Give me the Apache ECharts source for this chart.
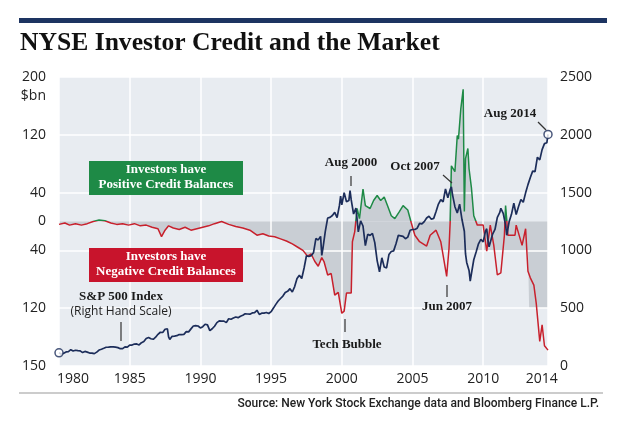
<!DOCTYPE html>
<html><head><meta charset="utf-8">
<script src="https://cdn.jsdelivr.net/npm/echarts@6/dist/echarts.min.js"></script>
<style>html,body{margin:0;padding:0;background:#fff}#c{width:620px;height:427px}</style>
</head><body><div id="c"></div>
<script>
// ---- S&P 500 index (right hand scale) ----
const spDates = [
'1980-01','1980-03','1980-05','1980-07','1980-09','1980-11',
'1981-01','1981-03','1981-05','1981-07','1981-09','1981-11',
'1982-01','1982-03','1982-05','1982-07','1982-09','1982-11',
'1983-01','1983-03','1983-05','1983-07','1983-09','1983-11',
'1984-01','1984-03','1984-05','1984-07','1984-09','1984-11',
'1985-01','1985-03','1985-05','1985-07','1985-09','1985-11',
'1986-01','1986-03','1986-05','1986-07','1986-09','1986-11',
'1987-01','1987-03','1987-05','1987-07','1987-08','1987-09','1987-10','1987-11',
'1988-01','1988-03','1988-05','1988-07','1988-09','1988-11',
'1989-01','1989-03','1989-05','1989-07','1989-09','1989-11',
'1990-01','1990-03','1990-05','1990-07','1990-09','1990-10','1990-11',
'1991-01','1991-03','1991-05','1991-07','1991-09','1991-11',
'1992-01','1992-03','1992-05','1992-07','1992-09','1992-11',
'1993-01','1993-03','1993-05','1993-07','1993-09','1993-11',
'1994-01','1994-03','1994-05','1994-07','1994-09','1994-11',
'1995-01','1995-03','1995-05','1995-07','1995-09','1995-11',
'1996-01','1996-03','1996-05','1996-07','1996-09','1996-11',
'1997-01','1997-03','1997-05','1997-07','1997-09','1997-11',
'1998-01','1998-03','1998-05','1998-07','1998-08','1998-09','1998-11',
'1999-01','1999-03','1999-05','1999-07','1999-09','1999-11','1999-12',
'2000-01','2000-03','2000-05','2000-07','2000-08','2000-09','2000-11',
'2001-01','2001-03','2001-05','2001-07','2001-09','2001-11',
'2002-01','2002-03','2002-05','2002-07','2002-09','2002-11',
'2003-01','2003-03','2003-05','2003-07','2003-09','2003-11',
'2004-01','2004-03','2004-05','2004-07','2004-09','2004-11',
'2005-01','2005-03','2005-05','2005-07','2005-09','2005-11',
'2006-01','2006-03','2006-05','2006-07','2006-09','2006-11',
'2007-01','2007-03','2007-05','2007-07','2007-09','2007-10','2007-11',
'2008-01','2008-03','2008-05','2008-07','2008-09','2008-10','2008-11',
'2009-01','2009-02','2009-03','2009-05','2009-07','2009-09','2009-11',
'2010-01','2010-03','2010-04','2010-05','2010-06','2010-09','2010-11',
'2011-01','2011-03','2011-04','2011-06','2011-08','2011-09','2011-11',
'2012-01','2012-03','2012-05','2012-07','2012-09','2012-11',
'2013-01','2013-03','2013-05','2013-07','2013-09','2013-11',
'2014-01','2014-03','2014-05','2014-07','2014-08'];
const spValues = [
114,102,111,122,125,141,
130,136,133,131,116,126,
120,112,112,107,120,138,
145,153,162,163,166,166,
163,159,150,150,166,163,
180,181,190,191,182,202,
212,238,247,236,231,249,
274,292,290,318,330,322,252,230,
257,259,262,272,272,274,
297,295,321,346,349,346,
329,340,361,356,306,304,322,
344,375,390,388,388,375,
409,404,415,424,418,431,
439,452,450,448,459,462,
482,446,457,458,463,454,
470,501,533,562,584,605,
636,646,669,640,687,757,
786,757,848,954,947,955,
980,1102,1091,1121,957,1017,1164,
1280,1286,1302,1329,1283,1389,1469,
1394,1499,1421,1431,1518,1437,1315,
1366,1160,1256,1211,1041,1139,
1130,1147,1067,912,815,936,
856,848,964,990,996,1058,
1131,1126,1121,1101,1115,1174,
1181,1181,1192,1234,1229,1249,
1280,1295,1270,1277,1336,1401,
1438,1421,1531,1455,1527,1549,1481,
1378,1323,1400,1267,1166,969,896,
826,735,798,919,987,1057,1096,
1074,1169,1187,1089,1031,1141,1181,
1286,1326,1364,1321,1219,1131,1247,
1312,1408,1310,1379,1441,1416,
1498,1569,1631,1686,1682,1806,
1783,1872,1924,1931,2003];

// ---- NYSE investor credit balance, $bn (left scale) ----
const creditDates = [
'1980-01','1980-06','1980-10','1981-03','1981-08','1982-01','1982-06','1982-11','1983-04','1983-09',
'1984-02','1984-07','1984-12','1985-05','1985-10','1986-03','1986-08','1987-01','1987-04','1987-07',
'1987-10','1988-02','1988-07','1988-12','1989-05','1989-10','1990-03','1990-08','1991-01','1991-07',
'1992-01','1992-07','1993-01','1993-07','1994-01','1994-06','1994-11','1995-04','1995-09','1996-02',
'1996-07','1996-12','1997-04','1997-08','1997-11','1998-02','1998-05','1998-08','1998-10','1999-01',
'1999-04','1999-07','1999-10','2000-01','2000-03','2000-05','2000-09','2000-10','2000-12','2001-02',
'2001-04','2001-07','2001-09','2002-01','2002-04','2002-07','2002-10','2003-01','2003-04','2003-07',
'2003-10','2004-02','2004-05','2004-09','2004-12','2005-03','2005-07','2006-01','2006-04','2006-09',
'2007-01','2007-03','2007-06','2007-08','2007-09','2007-10','2008-01','2008-03','2008-04','2008-06',
'2008-08','2008-09','2008-10','2008-12','2009-01','2009-03','2009-05','2009-08','2010-01','2010-04',
'2010-07','2010-10','2011-01','2011-04','2011-07','2011-08','2011-10','2012-04','2012-05','2012-10',
'2013-01','2013-03','2013-05','2013-08','2013-10','2014-01','2014-03','2014-05','2014-08'];
const creditValues = [
-4,-2,-5,-3,-5,-3,0,2,1,-2,
-4,-3,-5,-3,-6,-5,-8,-10,-21,-12,
-6,-9,-11,-8,-12,-10,-8,-6,-3,0,
-4,-7,-9,-12,-19,-17,-20,-21,-24,-27,
-31,-36,-40,-48,-45,-55,-62,-50,-56,-74,
-72,-102,-98,-127,-124,-99,-99,-28,-14,18,
4,45,22,18,29,36,29,34,21,8,
4,14,22,16,-2,-19,-28,-34,-19,-12,
-28,-47,-76,-37,0,77,69,119,114,156,
183,14,87,101,73,47,8,-5,-5,-41,
-5,-33,-74,-71,-19,22,-19,-19,-5,-33,
-10,-69,-78,-88,-113,-166,-143,-172,-178];

// ---- grey shading below zero (left scale) ----
const shadeDates = [
'1980-01','1980-06','1980-10','1981-03','1981-08','1982-01','1982-06','1982-11','1983-04','1983-09',
'1984-02','1984-07','1984-12','1985-05','1985-10','1986-03','1986-08','1987-01','1987-04','1987-07',
'1987-10','1988-02','1988-07','1988-12','1989-05','1989-10','1990-03','1990-08','1991-01','1991-07',
'1992-01','1992-07','1993-01','1993-07','1994-01','1994-06','1994-11','1995-04','1995-09','1996-02',
'1996-07','1996-12','1997-04','1997-08','1997-11','1998-02','1998-05','1998-08','1998-10','1999-01',
'1999-04','1999-07','1999-10','2000-01','2000-03','2000-05','2000-09','2000-10','2013-03','2013-04','2014-08'];
const shadeValues = [
-4,-2,-5,-3,-5,-3,0,0,0,-2,
-4,-3,-5,-3,-6,-5,-8,-10,-21,-12,
-6,-9,-11,-8,-12,-10,-8,-6,-3,0,
-4,-7,-9,-12,-19,-17,-20,-21,-24,-27,
-31,-36,-40,-48,-45,-55,-62,-50,-56,-74,
-72,-102,-98,-127,-124,-99,-99,-40,-40,-120,-120];

const xTickLabels = [1980,1985,1990,1995,2000,2005,2010,2014];
const leftTickLabels = {'200':'200','120':'120','40':'40','0':'0','-40':'40','-120':'120','-200':'150'};

const NAVY = '#1c2d5a', RED = '#c8202c', GREEN = '#1e8a46', SHADE = '#c9ced4', BG = '#e8ecf1';
const GRID = {left: 59, right: 72, top: 77, bottom: 61};
const toYear = s => { const p = s.split('-'); return +p[0] + (+p[1] - 1) / 12; };

const spData = spDates.map((d, i) => [toYear(d), spValues[i]]);
const creditData = creditDates.map((d, i) => [toYear(d), creditValues[i]]);
const posShade = creditDates.map((d, i) => [toYear(d), Math.max(creditValues[i], 0)]);
const negShade = shadeDates.map((d, i) => [toYear(d), shadeValues[i]]);
const endPoints = [spData[0], spData[spData.length - 1]];

const chart = echarts.init(document.getElementById('c'), null, {renderer: 'canvas'});
const SERIF = '"Liberation Serif", "DejaVu Serif", serif';
const SANS = '"Open Sans", "Noto Sans", sans-serif';
const annot = (text, x, y) => ({type: 'text', x: x, y: y, style: {text: text, font: 'bold 13px ' + SERIF, fill: '#1a1a1a', align: 'center', verticalAlign: 'middle'}});
const seg = (x1, y1, x2, y2) => ({type: 'line', shape: {x1: x1, y1: y1, x2: x2, y2: y2}, style: {stroke: '#333', lineWidth: 1.2}});

// credit line: green above the zero line, red below (zero sits mid-height of the symmetric left axis)
const plotTop = GRID.top, plotBottom = 427 - GRID.bottom;
const creditGradient = new echarts.graphic.LinearGradient(0, plotTop, 0, plotBottom, [
  {offset: 0, color: GREEN}, {offset: 0.5, color: GREEN},
  {offset: 0.5, color: RED}, {offset: 1, color: RED}], true);

const graphics = [
  {type: 'rect', shape: {x: 19, y: 18, width: 588, height: 5}, style: {fill: '#1d3461'}},
  {type: 'text', x: 20, y: 43, style: {text: 'NYSE Investor Credit and the Market', font: 'bold 25.6px ' + SERIF, fill: '#111', align: 'left', verticalAlign: 'middle'}},
  {type: 'text', x: 46, y: 96, style: {text: '$bn', font: '14px ' + SANS, fill: '#222', align: 'right', verticalAlign: 'middle'}},
  {type: 'rect', shape: {x: 89, y: 161, width: 154, height: 34}, style: {fill: GREEN}},
  {type: 'text', x: 166, y: 170, style: {text: 'Investors have', font: 'bold 13px ' + SERIF, fill: '#fff', align: 'center', verticalAlign: 'middle'}},
  {type: 'text', x: 166, y: 185, style: {text: 'Positive Credit Balances', font: 'bold 13px ' + SERIF, fill: '#fff', align: 'center', verticalAlign: 'middle'}},
  {type: 'rect', shape: {x: 89, y: 248, width: 154, height: 34}, style: {fill: '#c8142c'}},
  {type: 'text', x: 166, y: 257, style: {text: 'Investors have', font: 'bold 13px ' + SERIF, fill: '#fff', align: 'center', verticalAlign: 'middle'}},
  {type: 'text', x: 166, y: 272, style: {text: 'Negative Credit Balances', font: 'bold 13px ' + SERIF, fill: '#fff', align: 'center', verticalAlign: 'middle'}},
  annot('Aug 2000', 351, 163), seg(351, 176, 351, 186),
  annot('Oct 2007', 415, 167), seg(443, 175, 452, 183),
  annot('Aug 2014', 510, 114), seg(538, 122, 546, 130),
  annot('Tech Bubble', 347, 345), seg(345, 319, 345, 332),
  annot('Jun 2007', 447, 307), seg(447, 285, 447, 297),
  annot('S&P 500 Index', 121, 297),
  {type: 'text', x: 121, y: 312, style: {text: '(Right Hand Scale)', font: '12px ' + SANS, fill: '#222', align: 'center', verticalAlign: 'middle'}},
  seg(121, 322, 121, 341),
  {type: 'line', shape: {x1: 19, y1: 393, x2: 603, y2: 393}, style: {stroke: '#999', lineWidth: 1}},
  {type: 'text', x: 599, y: 404, style: {text: 'Source: New York Stock Exchange data and Bloomberg Finance L.P.', font: '500 12px Roboto, "Liberation Sans", sans-serif', fill: '#222', align: 'right', verticalAlign: 'middle'}}
].map(g => Object.assign({z: 100}, g));

chart.setOption({
  animation: false,
  backgroundColor: '#fff',
  grid: Object.assign({show: true, backgroundColor: BG, borderWidth: 0}, GRID),
  xAxis: {
    type: 'value', min: 1980, max: toYear('2014-08'), interval: 5, z: 3,
    axisLine: {show: false}, axisTick: {show: false},
    splitLine: {show: true, lineStyle: {color: '#fff', width: 1.5}},
    axisLabel: {
      customValues: xTickLabels, margin: 6, color: '#222', fontSize: 14, fontFamily: SANS,
      formatter: v => v === 1980 ? '{a|1980}' : (v === 2014 ? '{b|2014}' : String(v)),
      rich: {a: {fontSize: 14, fontFamily: SANS, color: '#222', padding: [0, 0, 0, 28]},
             b: {fontSize: 14, fontFamily: SANS, color: '#222', padding: [0, 0, 0, 4]}}
    }
  },
  yAxis: [
    {type: 'value', min: -200, max: 200, interval: 40, position: 'left',
     axisLine: {show: false}, axisTick: {show: false}, splitLine: {show: false},
     axisLabel: {margin: 13, color: '#222', fontSize: 14, fontFamily: SANS,
       formatter: v => leftTickLabels[String(Math.round(v))] || ''}},
    {type: 'value', min: 0, max: 2500, interval: 500, position: 'right', z: 3,
     axisLine: {show: false}, axisTick: {show: false},
     splitLine: {show: true, lineStyle: {color: '#fff', width: 1.5}},
     axisLabel: {margin: 12, color: '#222', fontSize: 14, fontFamily: SANS, formatter: v => String(v)}}
  ],
  series: [
    {type: 'line', data: posShade, yAxisIndex: 0, symbol: 'none', z: 2,
     lineStyle: {width: 0}, areaStyle: {color: SHADE, opacity: 1}, silent: true},
    {type: 'line', data: negShade, yAxisIndex: 0, symbol: 'none', z: 2,
     lineStyle: {width: 0}, areaStyle: {color: SHADE, opacity: 1}, silent: true},
    {type: 'line', data: creditData, yAxisIndex: 0, symbol: 'none', z: 5,
     lineStyle: {width: 1.5, color: creditGradient}},
    {type: 'line', data: spData, yAxisIndex: 1, symbol: 'none', z: 6,
     lineStyle: {width: 1.7, color: NAVY}, itemStyle: {color: NAVY}},
    {type: 'scatter', data: endPoints, yAxisIndex: 1, symbol: 'circle', symbolSize: 8, z: 7,
     itemStyle: {color: '#fff', borderColor: NAVY, borderWidth: 1.5}}
  ],
  graphic: graphics
});
</script>
</body></html>
